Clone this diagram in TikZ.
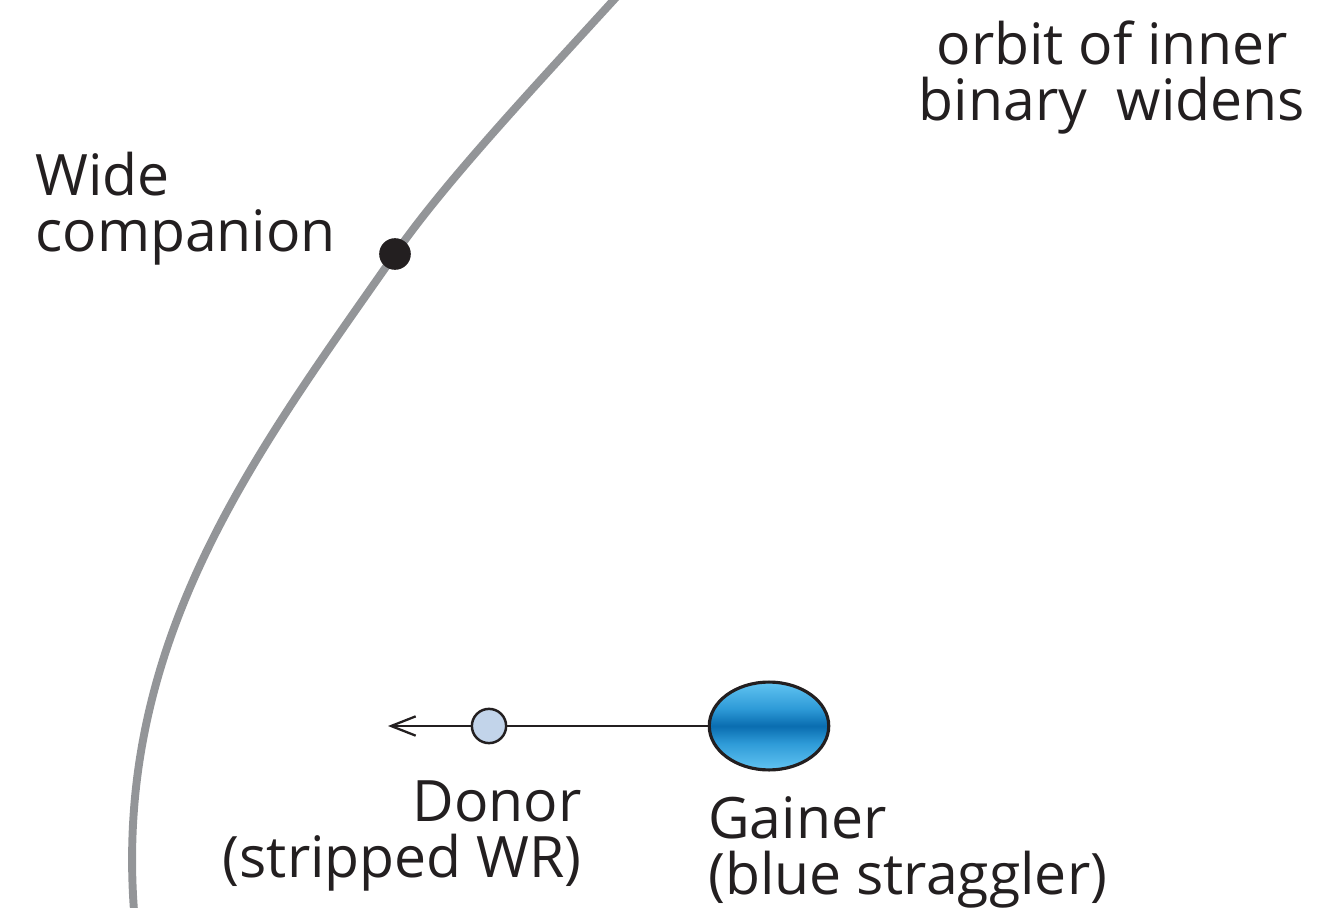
\documentclass[tikz,border=0pt]{standalone}
\usepackage{fontspec}
\setmainfont{Open Sans}
\usetikzlibrary{arrows.meta, shapes.geometric}
\definecolor{orbitgrey}{HTML}{939598}
\definecolor{inkblack}{HTML}{231F20}
\definecolor{donorblue}{HTML}{C2D4EA}
\definecolor{gainerlight}{HTML}{62C4F2}
\definecolor{gainermid}{HTML}{2E9BD8}
\definecolor{gainerdark}{HTML}{0A6DB0}
% light rim, narrow dark band through the middle of the gainer
\pgfdeclareverticalshading{gainershade}{100bp}{%
  color(0bp)=(gainerlight); color(25bp)=(gainerlight);
  color(40bp)=(gainermid); color(50bp)=(gainerdark);
  color(60bp)=(gainermid); color(75bp)=(gainerlight);
  color(100bp)=(gainerlight)}
\tikzset{
  label text/.style={font=\fontsize{32.5}{32}\selectfont, text=inkblack, inner sep=0pt},
  orbitline/.style={draw=orbitgrey, line width=4.5pt},
  companion/.style={circle, fill=inkblack, minimum size=18pt, inner sep=0pt},
  donorstar/.style={circle, draw=inkblack, line width=1.4pt, fill=donorblue, minimum size=19.5pt, inner sep=0pt},
  gainerstar/.style={ellipse, draw=inkblack, line width=1.8pt, shading=gainershade, minimum width=68pt, minimum height=50pt, inner sep=0pt},
  pushline/.style={draw=inkblack, line width=1.4pt, -{Straight Barb[length=14pt, width=11pt, line width=1.3pt]}},
}
\begin{document}
\begin{tikzpicture}[x=0.02cm, y=-0.02cm]
  \useasboundingbox (0,0) rectangle (1318,908);
  % orbit of the wide companion
  \begin{scope}
    \clip (0,0) rectangle (1318,908);
    \draw[orbitline] (650,-40) .. controls (560,60) and (452,172) .. (395,254)
      .. controls (252,459) and (100,655) .. (138,950);
  \end{scope}
  \node[companion] (wide) at (395,254) {};
  % inner binary
  \node[gainerstar] (gainer) at (769,726) {};
  \coordinate (tip) at (388,726);
  \draw[pushline] (gainer.west) -- (tip);
  \node[donorstar] (donor) at (489,726) {};
  % labels
  \node[label text, anchor=north west, align=left] (widelabel) at (35,152) {Wide\\companion};
  \node[label text, anchor=north, align=center] (orbitlabel) at (1112,20) {orbit of inner\\binary\ \ widens};
  \node[label text, anchor=north east, align=right] (donorlabel) at (582,780) {Donor\\(stripped WR)};
  \node[label text, anchor=north west, align=left] (gainerlabel) at (708,796) {Gainer\\(blue straggler)};
\end{tikzpicture}
\end{document}
